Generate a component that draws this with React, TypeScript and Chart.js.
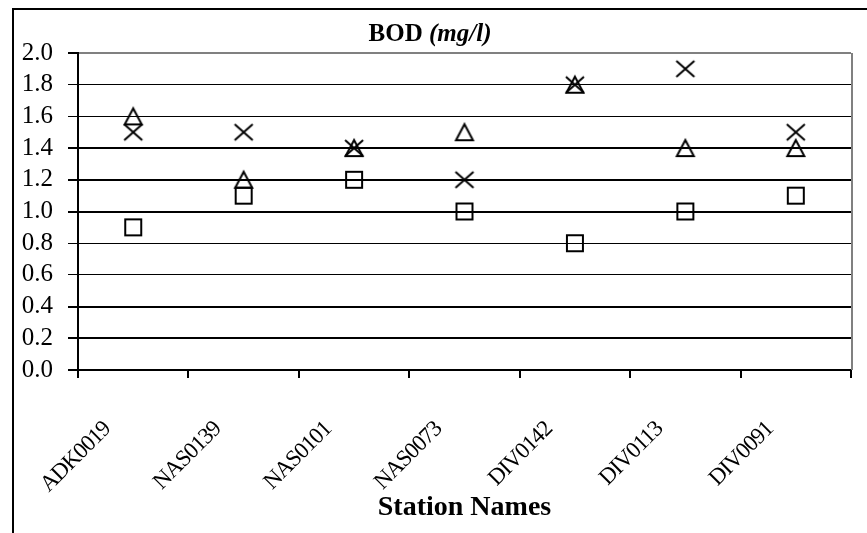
import React, { useEffect, useRef } from "react";
import { Chart, registerables } from "chart.js";

Chart.register(...registerables);

const stations = ["ADK0019", "NAS0139", "NAS0101", "NAS0073", "DIV0142", "DIV0113", "DIV0091"];
const triangleValues = [1.6, 1.2, 1.4, 1.5, 1.8, 1.4, 1.4];
const crossValues = [1.5, 1.5, 1.4, 1.2, 1.8, 1.9, 1.5];
const squareValues = [0.9, 1.1, 1.2, 1.0, 0.8, 1.0, 1.1];
const yTicks = [0, 0.2, 0.4, 0.6, 0.8, 1.0, 1.2, 1.4, 1.6, 1.8, 2.0];
const thickGrid = [0, 0.2, 0.4, 1.0, 1.2, 1.4];

const SERIF = '"Liberation Serif", "Times New Roman", serif';

function makeMarker(kind: string): HTMLCanvasElement {
  const c = document.createElement("canvas");
  c.width = 22;
  c.height = 22;
  const g = c.getContext("2d")!;
  g.strokeStyle = "#000";
  g.lineWidth = 2;
  g.beginPath();
  if (kind === "square") {
    g.rect(3, 3, 16, 16);
  } else if (kind === "triangle") {
    g.moveTo(11, 3);
    g.lineTo(19.5, 19);
    g.lineTo(2.5, 19);
    g.closePath();
  } else {
    g.moveTo(2, 3);
    g.lineTo(20, 19);
    g.moveTo(20, 3);
    g.lineTo(2, 19);
  }
  g.stroke();
  return c;
}

export default function App() {
  const ref = useRef<HTMLCanvasElement | null>(null);

  useEffect(() => {
    document.body.style.margin = "0";
    const canvas = ref.current!;
    const decor = {
      id: "decor",
      afterLayout(chart: any) {
        const sx = chart.scales.x;
        if (!sx._lsPatched) {
          const orig = sx.drawLabels.bind(sx);
          sx.drawLabels = function (area: any) {
            const ctx = chart.ctx;
            ctx.save();
            (ctx as any).letterSpacing = "-1px";
            orig(area);
            ctx.restore();
          };
          sx._lsPatched = true;
        }
      },
      afterDraw(chart: any) {
        const ctx = chart.ctx;
        const a = chart.chartArea;
        ctx.save();
        // outer frame (left + top)
        ctx.strokeStyle = "#000";
        ctx.lineWidth = 2;
        ctx.beginPath();
        ctx.moveTo(13, 533);
        ctx.lineTo(13, 9);
        ctx.lineTo(867, 9);
        ctx.stroke();
        // plot area right border
        ctx.strokeStyle = "#808080";
        ctx.beginPath();
        ctx.moveTo(a.right + 1, a.top);
        ctx.lineTo(a.right + 1, a.bottom);
        ctx.stroke();
        // title
        ctx.fillStyle = "#000";
        ctx.textBaseline = "middle";
        ctx.textAlign = "left";
        const f1 = "bold 25px " + SERIF;
        const f2 = "italic bold 25px " + SERIF;
        const t1 = "BOD ";
        const t2 = "(mg/l)";
        ctx.font = f1;
        const w1 = ctx.measureText(t1).width;
        ctx.font = f2;
        const w2 = ctx.measureText(t2).width;
        const cx = 430;
        const x0 = cx - (w1 + w2) / 2;
        ctx.font = f1;
        ctx.fillText(t1, x0, 35);
        ctx.font = f2;
        ctx.fillText(t2, x0 + w1, 35);
        // x axis title
        ctx.font = "bold 28px " + SERIF;
        ctx.textAlign = "center";
        ctx.fillText("Station Names", (a.left + a.right) / 2, 508);
        ctx.restore();
      },
    };

    const chart = new Chart(canvas, {
      type: "line",
      data: {
        labels: stations,
        datasets: [
          {
            label: "triangle",
            data: triangleValues,
            showLine: false,
            pointStyle: makeMarker("triangle"),
            borderColor: "#000",
            backgroundColor: "#000",
          },
          {
            label: "cross",
            data: crossValues,
            showLine: false,
            pointStyle: makeMarker("cross"),
            borderColor: "#000",
            backgroundColor: "#000",
          },
          {
            label: "square",
            data: squareValues,
            showLine: false,
            pointStyle: makeMarker("square"),
            borderColor: "#000",
            backgroundColor: "#000",
          },
        ],
      },
      options: {
        responsive: false,
        animation: false,
        devicePixelRatio: 1,
        layout: { padding: { top: 53, right: 16, left: 0, bottom: 0 } },
        plugins: {
          legend: { display: false },
          title: { display: false },
          tooltip: { enabled: false },
        },
        scales: {
          x: {
            type: "category",
            offset: true,
            grid: {
              offset: true,
              drawOnChartArea: false,
              drawTicks: true,
              tickLength: 8,
              color: "#000",
              lineWidth: 2,
            },
            border: { display: true, color: "#000", width: 2 },
            ticks: {
              autoSkip: false,
              minRotation: 45,
              maxRotation: 45,
              padding: 38,
              labelOffset: -26,
              color: "#000",
              font: { family: SERIF, size: 23 },
            },
            afterFit(scale: any) {
              scale.height = 163;
            },
          },
          y: {
            min: 0,
            max: 2,
            afterBuildTicks(scale: any) {
              scale.ticks = yTicks.map((v) => ({ value: v }));
            },
            grid: {
              color: (c: any) => (c.tick && Math.abs(c.tick.value - 2) < 1e-9 ? "#808080" : "#000"),
              tickColor: "#000",
              lineWidth: (c: any) =>
                c.tick && thickGrid.some((t) => Math.abs(t - c.tick.value) < 1e-9) ? 2 : c.tick && Math.abs(c.tick.value - 2) < 1e-9 ? 2 : 1,
              tickLength: 10,
            },
            border: { display: true, color: "#000", width: 2 },
            ticks: {
              autoSkip: false,
              padding: 15,
              color: "#000",
              font: { family: SERIF, size: 25 },
              callback: (v: any) => Number(v).toFixed(1),
            },
            afterFit(scale: any) {
              scale.width = 78;
            },
          },
        },
      },
      plugins: [decor],
    });
    return () => chart.destroy();
  }, []);

  return (
    <div style={{ position: "fixed", left: 0, top: 0, width: 867, height: 533, background: "#fff" }}>
      <canvas ref={ref} width={867} height={533} style={{ width: 867, height: 533, display: "block" }} />
    </div>
  );
}
